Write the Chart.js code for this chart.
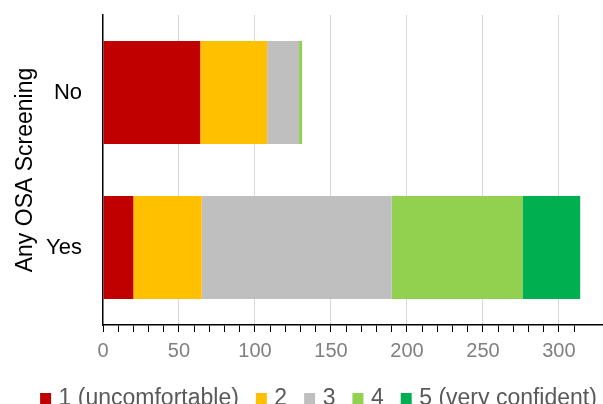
<!DOCTYPE html>
<html>
<head>
<meta charset="utf-8">
<script src="https://cdn.jsdelivr.net/npm/chart.js@4/dist/chart.umd.min.js"></script>
<style>
    html, body { margin: 0; padding: 0; background: #fff; }
    #wrap { width: 603px; height: 404px; position: relative; }
</style>
</head>
<body>
<div id="wrap"><canvas id="chart"></canvas></div>
<script>
// data
const categories = ['No', 'Yes'];
const ratingLabels = ['1 (uncomfortable)', '2', '3', '4', '5 (very confident)'];
const rating1 = [64, 20];
const rating2 = [44, 45];
const rating3 = [21, 125];
const rating4 = [2, 86];
const rating5 = [0, 38];
const ratingColors = ['#C00000', '#FFC000', '#BFBFBF', '#92D050', '#00B050'];
const xMax = 329;

let myChart;

document.addEventListener('DOMContentLoaded', () => {
    initializeChart();
});

// the legend in the original sits a bit right of centre
const legendShift = {
    id: 'legendShift',
    afterLayout(chart) {
        chart.legend.left += 18;
    }
};

function initializeChart() {
    const ctx = document.getElementById('chart').getContext('2d');
    const series = [rating1, rating2, rating3, rating4, rating5];

    myChart = new Chart(ctx, {
        type: 'bar',
        data: {
            labels: categories,
            datasets: series.map((values, i) => ({
                label: ratingLabels[i],
                data: values,
                backgroundColor: ratingColors[i],
                borderWidth: 0,
                barPercentage: 0.665,
                categoryPercentage: 1
            }))
        },
        plugins: [legendShift],
        options: {
            indexAxis: 'y',
            responsive: true,
            maintainAspectRatio: false,
            animation: false,
            layout: {
                // negative right padding only widens the legend row
                padding: {
                    top: 15,
                    bottom: -16,
                    left: 0,
                    right: -20
                }
            },
            plugins: {
                tooltip: { enabled: false },
                legend: {
                    position: 'bottom',
                    labels: {
                        usePointStyle: true,
                        pointStyle: 'rect',
                        boxWidth: 3,
                        boxHeight: 11,
                        padding: 21,
                        color: '#595959',
                        font: { family: "'Liberation Sans', Arial", size: 23 }
                    }
                }
            },
            scales: {
                x: {
                    stacked: true,
                    min: 0,
                    max: xMax,
                    afterBuildTicks: (scale) => {
                        scale.ticks = scale.ticks.filter(t => t.value % 10 === 0);
                    },
                    afterFit: (scale) => {
                        scale.height = 41;
                        scale.paddingRight = 0;
                    },
                    ticks: {
                        stepSize: 10,
                        autoSkip: false,
                        maxRotation: 0,
                        padding: 7,
                        color: '#808080',
                        font: { family: "'Liberation Sans', Arial", size: 20 },
                        callback: (value) => (value % 50 === 0 ? value : '')
                    },
                    grid: {
                        color: (c) => (c.tick && c.tick.value % 50 === 0 && c.tick.value !== 0 ? '#D9D9D9' : 'rgba(0,0,0,0)'),
                        lineWidth: 1,
                        tickColor: '#000',
                        tickLength: 7,
                        tickWidth: 1
                    },
                    border: {
                        color: '#000',
                        width: 1.5
                    }
                },
                y: {
                    stacked: true,
                    afterFit: (scale) => {
                        scale.width = 103;
                        scale.paddingTop = 0;
                        scale.paddingBottom = 0;
                    },
                    ticks: {
                        padding: 21,
                        color: '#000',
                        font: { family: "'Liberation Sans', Arial", size: 22 }
                    },
                    grid: {
                        display: false,
                        drawTicks: false
                    },
                    border: {
                        color: '#000',
                        width: 1.5
                    },
                    title: {
                        display: true,
                        text: 'Any OSA Screening',
                        color: '#000',
                        padding: { top: 12, bottom: 0 },
                        font: { family: "'Liberation Sans', Arial", size: 23 }
                    }
                }
            }
        }
    });
}
</script>
</body>
</html>
